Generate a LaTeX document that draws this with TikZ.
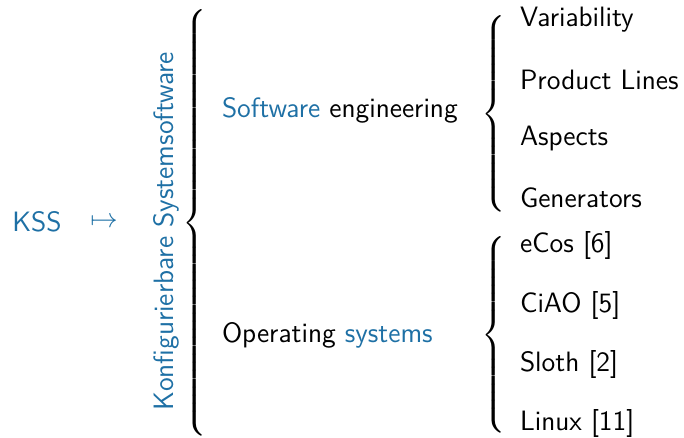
\documentclass[tikz,border=0pt]{standalone}
\usepackage{amsmath}
\usepackage{xcolor}
\usepackage{tikz}
\usetikzlibrary{positioning}
\definecolor{kssblue}{RGB}{30,112,165}

\begin{document}
\begin{tikzpicture}[x=0.4pt, y=-0.4pt, every node/.style={font=\fontsize{11.2}{13}\selectfont\sffamily, inner sep=0pt, outer sep=0pt}, hi/.style={text=kssblue}, item/.style={anchor=west}]
\useasboundingbox (0,0) rectangle (684,438);
%name and its meaning
\node[hi] (kss) at (37,222) {KSS};
\node[hi] (maps) at (104,222) {$\mapsto$};
\node[hi, rotate=90] (kssname) at (166,231) {Konfigurierbare Systemsoftware};
%big brace
\node (bigbrace) at (196,223) {$\left\{\vcenter{\hbox{\rule{0pt}{173pt}}}\right.$};
%two fields
\node[item] (swe) at (222,110) {{\color{kssblue}Software} engineering};
\node[item] (os) at (222,335) {Operating {\color{kssblue}systems}};
%small braces
\node (swbrace) at (495,114) {$\left\{\vcenter{\hbox{\rule{0pt}{80pt}}}\right.$};
\node (osbrace) at (495,335) {$\left\{\vcenter{\hbox{\rule{0pt}{80pt}}}\right.$};
%topics
\node[item] (var) at (520,20) {Variability};
\node[item] (pl) at (520,80) {Product Lines};
\node[item] (asp) at (520,139) {Aspects};
\node[item] (gen) at (520,198) {Generators};
%systems
\node[item] (ecos) at (520,246) {eCos [6]};
\node[item] (ciao) at (520,305) {CiAO [5]};
\node[item] (sloth) at (520,364) {Sloth [2]};
\node[item] (linux) at (520,423) {Linux [11]};
\end{tikzpicture}
\end{document}
